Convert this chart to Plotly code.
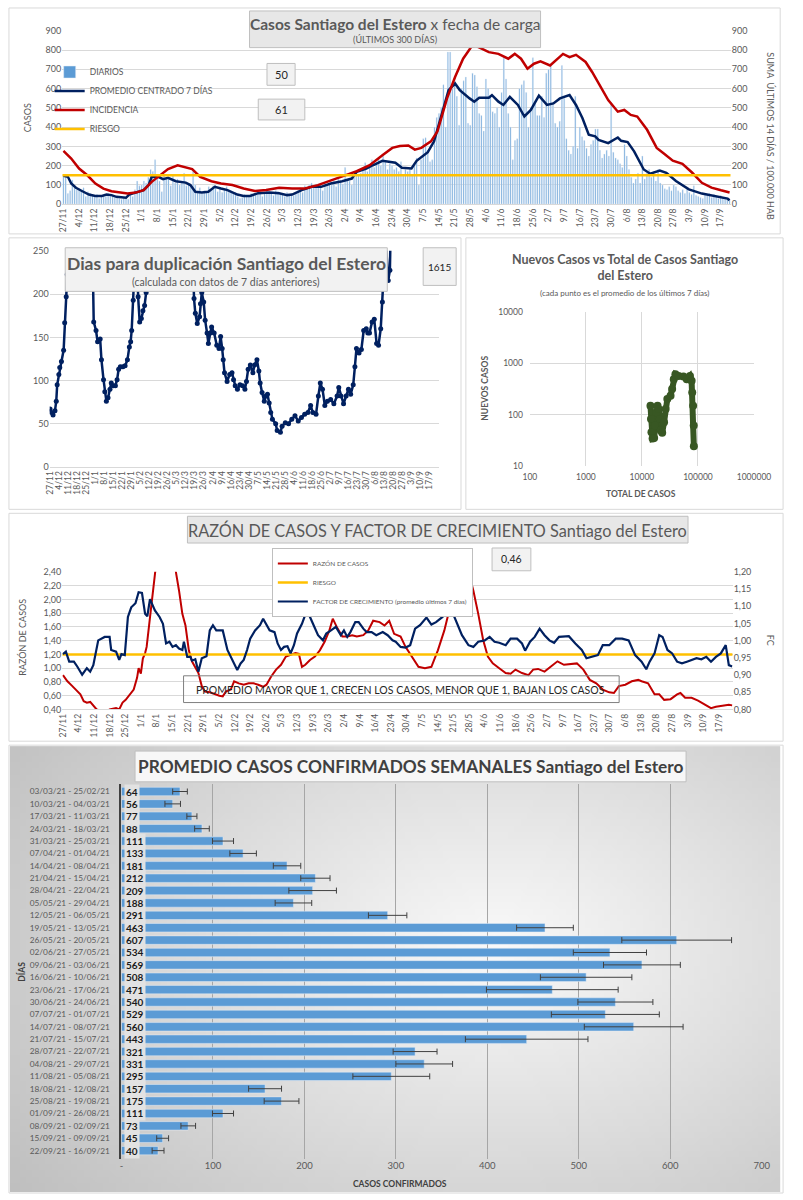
import base64, struct, zlib
import numpy as np
import plotly.graph_objects as go

W, H = 803, 1200
def X(px): return px / W
def Y(py): return 1 - py / H

FONT = "Lato"
GRAY = "#595959"
NAVY = "#002060"
RED = "#c00000"
YELLOW = "#ffc000"
BLUE = "#5b9bd5"
GREEN = "#385723"
GRID = "#d9d9d9"

# ---------------- common date ticks ----------------
DATE_LABELS = ["27/11","4/12","11/12","18/12","25/12","1/1","8/1","15/1","22/1","29/1","5/2","12/2",
               "19/2","26/2","5/3","12/3","19/3","26/3","2/4","9/4","16/4","23/4","30/4","7/5","14/5",
               "21/5","28/5","4/6","11/6","18/6","25/6","2/7","9/7","16/7","23/7","30/7","6/8","13/8",
               "20/8","27/8","3/9","10/9","17/9"]
TICK_DAYS = list(range(0, 7 * len(DATE_LABELS), 7))

# ---------------- panel 1: daily cases ----------------
DAILY = [150,140,55,70,125,90,75, 80,70,85,40,65,55,45, 45,50,30,40,45,40,55, 50,45,35,40,30,25,35,
         30,25,60,40,75,120,95, 100,120,110,140,180,170,230, 150,120,65,150,140,130,95,
         150,110,130,100,120,160,95, 110,90,170,100,60,85,55, 70,60,90,75,95,100,65,
         85,60,80,90,70,65,55, 60,40,30,35,50,45,40, 55,45,50,60,65,40,55, 70,55,60,45,70,65,50,
         55,40,60,45,50,45,60, 70,85,60,95,80,100,110, 90,105,85,100,70,110,95,
         110,100,120,90,130,115,105, 190,130,120,100,140,170,150, 160,180,215,170,200,230,190,
         215,240,200,250,220,180,210, 200,180,190,170,220,150,180, 170,190,150,200,240,100,230,
         340,345,280,220,230,400,450, 470,500,620,400,790,790,600, 640,560,410,600,640,660,420,
         410,680,670,610,470,460,380, 650,600,560,480,470,500,400, 580,760,650,470,400,230,330,
         340,600,620,640,580,400,500, 760,520,460,460,560,450,680, 700,720,530,420,400,430,720,
         550,340,280,260,300,560,290, 400,350,330,290,250,310,330, 390,390,280,240,260,280,250,
         530,270,240,230,210,190,310, 250,180,140,110,130,160,110, 250,130,160,180,140,170,120,
         180,110,100,80,75,90,70, 100,90,70,60,75,55,80, 60,50,95,45,40,35,30,
         50,45,55,35,50,40,30, 45,35,25,30,20]
DAILY_DAYS = list(range(len(DAILY)))

PROM_DAYS = [0,2,3.5,5.6,8.5,11.4,14.3,17.2,19.3,21.5,23.7,26.5,28,29.4,32.3,35.9,38.1,39.5,42.4,44.6,
             46.8,50.3,54.7,56.8,59,61.9,64.8,67.7,70.5,73.4,77.8,80.6,83.5,87.1,92.2,96.5,100.1,102.3,
             106.6,111,115.3,119.6,124.7,129,131.2,135.5,138.4,142.7,145.6,148.5,151.4,155.7,158,160,163,
             165.8,168.7,172.3,175.2,177.3,181.7,183.8,186,190.3,191.7,194.6,196.8,199.7,203.3,206.2,
             209.1,212.7,216.3,219.2,222.1,226.4,229.3,232.2,235,237.9,239.4,243.7,248,249.5,252.4,
             255.3,259.6,262.5,266.8,269.7,274,279.8,285.6,291.3,294.2,297.1,298]
PROM = [147,142,107,85,67,50,43,43,50,47,38,33,33,50,60,73,99,142,142,130,
        137,119,112,99,64,60,64,90,81,73,50,43,43,57,60,57,47,50,
        73,90,90,107,119,133,168,185,202,225,220,215,189,185,225,245,270,
        326,446,592,626,592,549,532,552,552,566,532,515,557,515,455,
        489,563,515,523,549,566,515,446,360,352,334,317,346,329,322,
        274,180,158,175,163,120,77,55,43,38,29,20]

INC_DAYS = [0,3.5,7,10.7,14.3,17.9,21.5,25.8,28.7,32.3,35.9,39.5,43.1,46.8,51.1,54,57.6,61.2,66.2,70.5,
            75.6,80.6,85.7,90.7,96.5,102.3,108.1,113.8,119.6,125.4,131.2,137,142.7,147.1,150.5,154.3,
            157.2,160.1,164.4,167.3,171.6,175.2,178.8,182.4,184.5,187.5,190.3,194.6,199,201.9,204.7,
            207.6,210.5,213.4,217.7,223.5,226.4,229.3,233.6,236.5,240.8,243.7,248,250.9,253.8,256.7,
            261.1,265.4,268.3,272.6,276.9,281.3,285.6,289.9,294.2,298]
INC = [277,237,185,150,107,81,67,60,55,60,73,116,150,182,202,194,182,142,119,107,
       99,81,69,73,85,81,81,99,125,147,171,202,254,292,302,305,
       283,292,326,377,549,660,755,815,822,806,789,780,755,780,755,
       703,729,741,720,780,763,775,738,686,600,540,480,489,463,455,
       386,292,266,226,209,163,111,86,72,61]

RIESGO_INC = 150

# ---------------- panel 2: doubling days ----------------
DUP_DAYS = [0,1,2.3,3.8,4.8,5.5,6.8,7.5,8.8,10.5,11.3,12.5,13.3,15,20,26,31,33.1,33.8,35.6,36.8,38.8,39.8,
            41.4,42.4,43.6,44.9,46.4,47.4,48.9,50.6,51.9,53.1,54.4,56.4,58.1,59.9,61.4,62.4,63.2,64.4,65.7,
            67,68.2,69.4,70.7,71.9,73.2,74.4,77,85,95,104,110,111.5,112.5,114,115.8,116.5,117.5,119,120.1,
            121.6,122.6,124.1,125.1,127.1,129.1,130.8,132.1,133.3,134.1,135.1,137.1,139.1,140.9,142.1,
            143.4,145.1,147.1,149.1,150.9,152.1,153.4,155.1,157.1,158.4,160.2,161.7,162.7,164.2,165.9,
            167.2,168.4,169.7,170.9,172.2,174.7,175.9,178.4,179.7,182.2,184.7,187.2,189.7,192.2,194.7,
            197.2,199.7,201.8,203.5,206,207.8,209.3,211,212.8,214.8,217.3,219.8,222.3,223.6,225.3,227.3,
            229.3,231.1,232.8,234.8,236.1,237.3,239.3,241.1,242.9,244.9,246.1,247.4,249.4,251.1,252.9,
            254.4,256.1,257.4,258.6,259.9,261.9,263.2,264.5,275,287,298]
DUP = [67,63,60,65,76,95,107,115,122,135,167,197,223,320,420,360,290,231,168,158,145,148,124,
       101,87,76,80,90,97,94,94,101,113,116,116,117,124,139,145,158,193,231,
       280,197,168,172,181,187,202,290,420,500,380,280,195,178,166,174,189,202,191,170,
       155,143,155,162,155,141,137,151,137,124,109,99,107,109,101,
       94,90,95,94,90,99,113,118,109,118,124,111,97,86,76,
       82,84,74,63,55,50,42,40,47,51,50,55,59,53,57,
       61,63,71,63,61,82,97,90,71,76,78,73,82,92,82,73,
       82,90,84,95,116,137,132,136,158,160,155,155,168,171,143,
       141,160,191,223,265,216,228,330,700,1100,1615]

# ---------------- panel 3: new vs total (log-log) ----------------
TOTAL = [14200,14500,14800,15500,16500,17100,18000,19000,19800,20900,21700,23000,24800,26500,28400,
         32400,34600,37000,39600,45200,55000,63000,72000,77000,79000,82000,84000,84500]
NUEVOS = [149,82,45,34,35,61,111,149,129,82,49,44,71,129,201,
          233,314,490,613,569,551,490,569,455,270,149,61,24]

# ---------------- panel 4: ratio & growth factor ----------------
RAZON_DAYS = [0,2.0,4.2,6.4,7.8,9.3,10.7,12.2,13.6,15.1,17.2,18.7,20.9,22.3,23.8,25.2,26.7,28.1,30.3,31.7,
              33.2,33.9,34.9,35.8,36.8,37.5,39.0,40.4,41.9,43.3,44.8,47.0,49.1,50.6,52.0,53.5,54.9,56.4,
              57.8,59.3,60.7,62.2,63.6,65.8,68.0,70.1,71.6,73.0,75.2,76.7,78.8,81.0,83.2,85.4,87.5,89.7,
              91.2,93.3,95.5,97.7,99.9,102.0,104.2,105.7,107.1,108.6,110.7,112.9,115.1,117.2,119.4,120.9,
              123.0,125.2,127.4,129.6,131.7,134.6,136.8,139.0,141.9,144.1,146.2,148.4,
              151.3,153.5,156.4,159.3,162.2,165.1,168.0,170.9,173.1,175.0,177.4,179.6,181.7,183.9,186.1,
              188.3,190.4,192.6,195.5,198.4,200.6,202.8,205.7,208.6,210.7,212.9,215.8,218.7,221.6,224.5,
              227.4,230.3,233.2,236.1,239.0,241.9,244.8,246.9,249.1,252.0,254.9,257.8,259.3,262.2,265.1,
              267.2,269.4,272.3,275.2,276.7,278.8,281.7,284.6,287.5,290.4,292.6,295.5,298.4,299.9]
RAZON = [0.90,0.81,0.74,0.66,0.62,0.52,0.50,0.51,0.45,0.40,0.38,0.35,0.40,0.41,0.42,0.40,0.50,0.54,0.64,0.69,
         0.86,1.00,0.92,1.14,1.22,1.31,1.74,2.08,2.40,2.80,3.2,4.0,3.2,2.40,2.13,1.79,1.62,1.26,
         1.10,1.02,0.93,0.74,0.66,0.65,0.62,0.60,0.59,0.66,0.69,0.81,0.78,0.76,0.78,0.78,0.76,0.73,
         0.76,0.88,0.98,1.05,1.17,1.19,1.22,1.21,1.02,1.05,1.12,1.17,1.26,1.38,1.55,1.72,
         1.58,1.46,1.46,1.48,1.46,1.48,1.55,1.69,1.67,1.62,1.69,1.50,
         1.46,1.31,1.17,1.02,1.00,1.02,1.26,1.55,1.84,2.17,2.8,2.9,2.40,2.13,1.79,
         1.41,1.17,1.07,1.00,0.93,0.92,0.98,0.93,0.90,0.98,0.99,0.95,1.02,1.10,1.05,
         1.06,1.07,0.98,0.83,0.78,0.69,0.65,0.64,0.74,0.76,0.81,0.83,0.81,0.78,0.62,
         0.62,0.54,0.55,0.62,0.64,0.57,0.57,0.53,0.47,0.42,0.44,0.46,0.47,0.46]

FC_DAYS = [0,1.3,2.8,4.9,6.4,8.6,10.7,12.2,13.6,15.8,18.7,20.9,21.6,23.8,25.2,26.2,27.7,29.1,30.6,32.5,
           33.9,35.4,36.8,37.8,39.0,41.2,43.3,44.8,46.2,47.7,49.1,50.6,52.0,53.5,54.2,55.7,57.1,57.8,59.3,60.7,
           62.2,64.3,65.8,67.2,68.7,70.1,71.6,73.7,75.2,76.7,78.1,79.6,81.0,82.5,83.9,86.1,88.3,89.7,91.2,92.6,
           94.8,96.2,97.7,99.1,100.6,102.0,103.5,104.9,107.1,109.3,110.7,112.2,114.3,116.5,118.0,120.1,122.3,
           124.5,125.9,127.4,128.8,131.0,132.5,134.6,136.1,138.3,140.4,143.3,145.5,147.7,
           149.1,151.3,153.5,155.6,157.8,160.0,162.9,165.1,167.2,170.1,172.3,174.5,176.6,178.8,181.7,183.9,
           186.1,189.0,191.2,193.4,195.5,198.4,200.6,203.5,205.7,207.1,209.3,211.4,213.6,215.8,218.0,220.1,
           222.3,224.5,226.7,229.6,232.5,234.6,237.5,239.7,241.9,244.8,247.7,250.6,253.5,256.4,259.3,261.4,
           262.9,265.1,267.2,268.7,270.9,273.0,275.2,277.4,279.6,281.7,283.9,286.1,288.3,290.4,292.6,294.8,
           297.0,298.4,299.9]
FC = [0.961,0.968,0.939,0.939,0.925,0.901,0.920,0.910,0.929,1.001,1.011,1.011,0.973,0.968,0.944,0.961,0.958,
      1.069,1.097,1.109,1.141,1.139,1.078,1.071,1.121,1.088,1.069,1.049,0.992,0.997,0.982,0.987,0.977,0.973,
      0.997,0.953,0.953,0.942,0.946,0.910,0.949,0.955,1.030,1.045,1.030,1.030,1.030,0.973,0.953,0.934,0.915,
      0.934,0.944,0.973,1.006,1.030,1.045,1.064,1.045,1.030,1.025,0.992,0.973,0.982,0.984,0.963,0.987,1.021,
      1.049,1.088,1.069,1.045,1.016,1.001,1.021,1.030,1.040,1.016,1.030,1.011,1.025,1.054,1.054,1.035,1.025,
      1.025,1.016,1.025,1.016,1.001,
      0.997,0.982,0.980,0.987,1.035,1.045,1.067,1.047,1.054,1.069,1.088,1.083,1.049,1.016,0.987,0.982,
      0.997,1.001,1.011,0.997,0.994,0.987,1.006,1.006,0.992,0.971,0.997,1.011,1.035,1.016,1.001,0.994,
      1.011,1.013,1.013,0.992,0.973,0.949,0.953,0.958,0.987,0.987,1.006,1.006,1.001,0.958,0.939,0.917,
      0.939,0.963,1.016,1.011,0.973,0.963,0.939,0.934,0.939,0.944,0.949,0.946,0.953,0.939,0.953,0.963,
      0.987,0.929,0.925]
RIESGO_RAZON = 1.2

# ---------------- panel 5: weekly averages ----------------
WEEKS = ["03/03/21 - 25/02/21","10/03/21 - 04/03/21","17/03/21 - 11/03/21","24/03/21 - 18/03/21",
         "31/03/21 - 25/03/21","07/04/21 - 01/04/21","14/04/21 - 08/04/21","21/04/21 - 15/04/21",
         "28/04/21 - 22/04/21","05/05/21 - 29/04/21","12/05/21 - 06/05/21","19/05/21 - 13/05/21",
         "26/05/21 - 20/05/21","02/06/21 - 27/05/21","09/06/21 - 03/06/21","16/06/21 - 10/06/21",
         "23/06/21 - 17/06/21","30/06/21 - 24/06/21","07/07/21 - 01/07/21","14/07/21 - 08/07/21",
         "21/07/21 - 15/07/21","28/07/21 - 22/07/21","04/08/21 - 29/07/21","11/08/21 - 05/08/21",
         "18/08/21 - 12/08/21","25/08/21 - 19/08/21","01/09/21 - 26/08/21","08/09/21 - 02/09/21",
         "15/09/21 - 09/09/21","22/09/21 - 16/09/21"]
WEEK_AVG = [64,56,77,88,111,133,181,212,209,188,291,463,607,534,569,508,471,540,529,560,443,321,331,295,
            157,175,111,73,45,40]
WEEK_ERR = [8,8.5,5.5,8,11.5,14.5,15,16,26,20,21,31,60,40,42,50,72,41,59,54,67,24,31,42,18,19,11.5,8,6.5,6.5]
BAR_TICKS = [0,100,200,300,400,500,600,700]
BAR_TICKTEXT = ["-","100","200","300","400","500","600","700"]

VAL_BOX_1 = "50"
VAL_BOX_2 = "61"
VAL_BOX_DUP = "1615"
VAL_BOX_RAZON = "0,46"

# ---------------- figure ----------------
fig = go.Figure()

# panel 1
fig.add_trace(go.Bar(x=DAILY_DAYS, y=DAILY, name="DIARIOS", marker_color=BLUE, width=0.5,
                     xaxis="x", yaxis="y", legend="legend"))
fig.add_trace(go.Scatter(x=PROM_DAYS, y=PROM, name="PROMEDIO CENTRADO 7 DÍAS", mode="lines",
                         line=dict(color=NAVY, width=2.5), xaxis="x", yaxis="y", legend="legend"))
fig.add_trace(go.Scatter(x=INC_DAYS, y=INC, name="INCIDENCIA", mode="lines",
                         line=dict(color=RED, width=2.5), xaxis="x", yaxis="y2", legend="legend"))
fig.add_trace(go.Scatter(x=[-0.5, 298.5], y=[RIESGO_INC, RIESGO_INC], name="RIESGO", mode="lines",
                         line=dict(color=YELLOW, width=2.5), xaxis="x", yaxis="y2", legend="legend"))

# panel 2
fig.add_trace(go.Scatter(x=DUP_DAYS, y=DUP, mode="lines+markers", showlegend=False,
                         line=dict(color=NAVY, width=2.5), marker=dict(color=NAVY, size=5),
                         xaxis="x2", yaxis="y3"))

# panel 3
fig.add_trace(go.Scatter(x=TOTAL, y=NUEVOS, mode="lines+markers", showlegend=False,
                         line=dict(color=GREEN, width=6), marker=dict(color=GREEN, size=8),
                         xaxis="x3", yaxis="y4"))

# panel 4
fig.add_trace(go.Scatter(x=RAZON_DAYS, y=RAZON, name="RAZÓN DE CASOS", mode="lines",
                         line=dict(color=RED, width=2), xaxis="x4", yaxis="y5", legend="legend2"))
fig.add_trace(go.Scatter(x=[-0.3, 300.1], y=[RIESGO_RAZON, RIESGO_RAZON], name="RIESGO", mode="lines",
                         line=dict(color=YELLOW, width=2.5), xaxis="x4", yaxis="y5", legend="legend2"))
fig.add_trace(go.Scatter(x=FC_DAYS, y=FC, name="FACTOR DE CRECIMIENTO (promedio últimos 7 días)",
                         mode="lines", line=dict(color=NAVY, width=2.2), xaxis="x4", yaxis="y6",
                         legend="legend2"))

# panel 5
fig.add_trace(go.Bar(x=WEEK_AVG, y=WEEKS, orientation="h", marker_color=BLUE, width=0.68,
                     error_x=dict(type="data", array=WEEK_ERR, color="#404040", thickness=1, width=3),
                     showlegend=False, xaxis="x5", yaxis="y7"))

tickf = dict(family=FONT, size=9, color=GRAY)
datef = dict(family=FONT, size=8.5, color=GRAY)

fig.update_layout(
    width=W, height=H, margin=dict(l=0, r=0, t=0, b=0),
    paper_bgcolor="white", plot_bgcolor="rgba(0,0,0,0)",
    font=dict(family=FONT, color=GRAY), separators=",.", bargap=0.3,
    xaxis=dict(domain=[X(57), X(746)], range=[-0.5, 298.5], anchor="y", tickvals=TICK_DAYS,
               ticktext=DATE_LABELS, tickangle=-90, tickfont=datef, showgrid=False, zeroline=False,
               showline=True, linecolor=GRID, ticks=""),
    yaxis=dict(domain=[Y(200), Y(24.8)], range=[0, 901], tickvals=list(range(0, 1000, 100)),
               anchor="x", gridcolor=GRID, zeroline=False, tickfont=tickf, ticks=""),
    yaxis2=dict(overlaying="y", side="right", range=[0, 901], tickvals=list(range(0, 1000, 100)),
                anchor="x", showgrid=False, zeroline=False, tickfont=tickf, ticks=""),
    xaxis2=dict(domain=[X(44), X(445)], range=[-0.3, 301], anchor="y3", tickvals=TICK_DAYS,
                ticktext=DATE_LABELS, tickangle=-90, tickfont=dict(family=FONT, size=8.5, color=GRAY),
                showgrid=False, zeroline=False, showline=True, linecolor=GRID, ticks=""),
    yaxis3=dict(domain=[Y(465), Y(247)], range=[0, 250.5], dtick=50, anchor="x2", gridcolor=GRID,
                zeroline=False, tickfont=tickf, ticks=""),
    xaxis3=dict(domain=[X(539), X(770)], type="log", range=[2, 6], anchor="y4",
                tickvals=[100, 1000, 10000, 100000, 1000000],
                ticktext=["100", "1000", "10000", "100000", "1000000"], gridcolor=GRID,
                zeroline=False, tickfont=dict(family=FONT, size=8.5, color=GRAY), ticks="",
                ticklabelstandoff=5),
    yaxis4=dict(domain=[Y(464), Y(309)], type="log", range=[1, 4], anchor="x3",
                tickvals=[10, 100, 1000, 10000], ticktext=["10", "100", "1000", "10000"],
                gridcolor=GRID, zeroline=False, tickfont=dict(family=FONT, size=8.5, color=GRAY),
                ticks="", ticklabelstandoff=6),
    xaxis4=dict(domain=[X(57), X(748)], range=[-0.3, 300.1], anchor="y5", tickvals=TICK_DAYS,
                ticktext=DATE_LABELS, tickangle=-90, tickfont=datef, showgrid=False, zeroline=False,
                showline=True, linecolor=GRID, ticks=""),
    yaxis5=dict(domain=[Y(710), Y(571)], range=[0.4, 2.402], dtick=0.2, tickformat=".2f", anchor="x4",
                gridcolor=GRID, zeroline=False, tickfont=tickf, ticks=""),
    yaxis6=dict(overlaying="y5", side="right", range=[0.8, 1.2004], dtick=0.05, tickformat=".2f",
                anchor="x4", showgrid=False, zeroline=False, tickfont=tickf, ticks=""),
    xaxis5=dict(domain=[X(118), X(778)], range=[0, 700], anchor="y7", tickvals=BAR_TICKS,
                ticktext=BAR_TICKTEXT, gridcolor="#a6a6a6", zeroline=False,
                tickfont=dict(family=FONT, size=9.5, color=GRAY), ticks=""),
    yaxis7=dict(domain=[Y(1163.3), Y(784.7)], type="category", categoryorder="array",
                categoryarray=WEEKS, autorange="reversed", anchor="x5", showline=True,
                linecolor="#404040", linewidth=2, showgrid=False,
                tickfont=dict(family=FONT, size=8.3, color=GRAY), ticks="", ticklabelstandoff=8),
    legend=dict(x=X(44), y=Y(52), xanchor="left", yanchor="top", bgcolor="rgba(0,0,0,0)",
                font=dict(family=FONT, size=8.5, color=GRAY), itemwidth=30, tracegroupgap=0),
    legend2=dict(x=X(273), y=Y(547), xanchor="left", yanchor="top", bgcolor="white",
                 bordercolor="#bfbfbf", borderwidth=1, font=dict(family=FONT, size=6.5, color=GRAY),
                 itemwidth=30),
)

# ---------- gradient background for panel 5 ----------
def png_uri(arr):
    h, w, _ = arr.shape
    raw = b"".join(b"\x00" + arr[i].tobytes() for i in range(h))
    def chunk(t, d):
        c = struct.pack(">I", len(d)) + t + d
        return c + struct.pack(">I", zlib.crc32(t + d) & 0xffffffff)
    png = (b"\x89PNG\r\n\x1a\n" + chunk(b"IHDR", struct.pack(">IIBBBBB", w, h, 8, 2, 0, 0, 0))
           + chunk(b"IDAT", zlib.compress(raw)) + chunk(b"IEND", b""))
    return "data:image/png;base64," + base64.b64encode(png).decode()

gw, gh = 120, 70
uu, vv = np.meshgrid(np.linspace(0, 1, gw), np.linspace(0, 1, gh))
dist = np.sqrt(((uu - 0.63) / 0.75) ** 2 + ((vv - 0.45) / 0.85) ** 2)
val = np.clip(250 - 55 * dist, 188, 252).astype(np.uint8)
grad = np.stack([val, val, val], axis=-1)
fig.add_layout_image(dict(source=png_uri(grad), xref="paper", yref="paper", x=X(3), y=Y(747),
                          sizex=X(797) - X(3), sizey=(1197 - 747) / H, sizing="stretch",
                          xanchor="left", yanchor="top", layer="below"))

# ---------- shapes ----------
def rect(x0, y0, x1, y1, fill="rgba(0,0,0,0)", line="#d9d9d9", layer="above", width=1):
    fig.add_shape(type="rect", xref="paper", yref="paper", x0=X(x0), x1=X(x1), y0=Y(y1), y1=Y(y0),
                  fillcolor=fill, line=dict(color=line, width=width), layer=layer)

# panel borders
rect(2, 2, 797, 230, layer="below")
rect(2, 234, 468, 508, layer="below")
rect(473, 234, 800, 508, layer="below")
rect(2, 512, 800, 742, layer="below")
rect(2, 746, 800, 1198, layer="above")

# title boxes and value boxes
rect(250, 5, 550, 42, fill="#e7e7e7", line="#bfbfbf")
rect(268, 58, 297, 80, fill="#f2f2f2", line="#bfbfbf")
rect(259, 94, 307, 115, fill="#f2f2f2", line="#bfbfbf")
rect(60, 244, 392, 288, fill="#f2f2f2", line="#bfbfbf")
rect(429, 244, 463, 282, fill="#f2f2f2", line="#bfbfbf")
rect(186, 515, 702, 542, fill="#e7e7e7", line="#bfbfbf")
rect(500, 547, 540, 570, fill="#f2f2f2", line="#bfbfbf")
rect(182, 676, 631, 703, line="#7f7f7f")
rect(132, 752, 700, 783, fill="#f7f7f7", line="#bfbfbf")

def txt(px, py, text, size, color=GRAY, angle=0, xanchor="center", yanchor="middle"):
    fig.add_annotation(xref="paper", yref="paper", x=X(px), y=Y(py), text=text, showarrow=False,
                       font=dict(family=FONT, size=size, color=color), textangle=angle,
                       xanchor=xanchor, yanchor=yanchor)

# panel 1 texts
txt(400, 18, "<b>Casos Santiago del Estero</b> x fecha de carga", 15.5)
txt(400, 34, "(ÚLTIMOS 300 DÍAS)", 9)
txt(282.5, 69, VAL_BOX_1, 11, "#262626")
txt(283, 104.5, VAL_BOX_2, 11, "#262626")
txt(22, 113, "CASOS", 9, angle=-90)
txt(787, 132, "SUMA  ÚLTIMOS 14 DÍAS / 100.000 HAB", 9, angle=90)

# panel 2 texts
txt(226, 260, "<b>Dias para duplicación Santiago del Estero</b>", 17.5)
txt(226, 279, "(calculada con datos de 7 días anteriores)", 10.5)
txt(446, 263, VAL_BOX_DUP, 10, "#262626")

# panel 3 texts
txt(637, 264, "<b>Nuevos Casos vs Total de Casos Santiago<br>del Estero</b>", 12.5)
txt(637, 290, "(cada punto es el promedio de los últimos 7 días)", 8)
txt(654, 493, "<b>TOTAL DE CASOS</b>", 8.5)
txt(493, 386, "<b>NUEVOS CASOS</b>", 8.5, angle=-90)

# panel 4 texts
txt(444, 529, "RAZÓN DE CASOS Y FACTOR DE CRECIMIENTO Santiago del Estero", 16.3)
txt(520, 558.5, VAL_BOX_RAZON, 10.5, "#262626")
txt(406, 690, "PROMEDIO MAYOR QUE 1, CRECEN LOS CASOS, MENOR QUE 1, BAJAN LOS CASOS", 10.5, "#262626")
txt(16, 637, "RAZÓN DE CASOS", 9, angle=-90)
txt(787, 640, "FC", 9, angle=90)

# panel 5 texts
txt(416, 768, "<b>PROMEDIO CASOS CONFIRMADOS SEMANALES Santiago del Estero</b>", 17.3, "#404040")
txt(405, 1189, "<b>CASOS CONFIRMADOS</b>", 8.5, "#404040")
txt(14, 975, "<b>DÍAS</b>", 8.5, "#404040", angle=-90)

for wk, v in zip(WEEKS, WEEK_AVG):
    fig.add_annotation(xref="x5", yref="y7", x=0, y=wk, text="<b>%d</b>" % v, showarrow=False,
                       xanchor="left", xshift=3, font=dict(family=FONT, size=10, color="#1a1a1a"),
                       bgcolor="#e2e2e2", borderpad=1)

fig.write_html("out.html", config={"displayModeBar": False},
               post_script="document.body.style.margin='0';"
                           "document.documentElement.style.overflow='hidden';")
